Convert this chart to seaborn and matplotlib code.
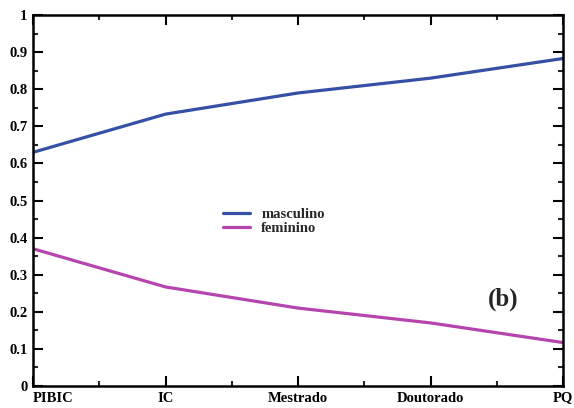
import matplotlib
matplotlib.use("Agg")
import matplotlib.pyplot as plt
import seaborn as sns
import pandas as pd
import numpy as np

categories = ["PIBIC", "IC", "Mestrado", "Doutorado", "PQ"]
masculino = [0.630, 0.733, 0.790, 0.830, 0.883]
feminino = [0.370, 0.267, 0.210, 0.170, 0.117]
y_ticks = [0, 0.1, 0.2, 0.3, 0.4, 0.5, 0.6, 0.7, 0.8, 0.9, 1]
y_labels = ["0", "0.1", "0.2", "0.3", "0.4", "0.5", "0.6", "0.7", "0.8", "0.9", "1"]

sns.set_theme(style="white")
plt.rcParams["font.family"] = ["Liberation Serif", "DejaVu Serif"]
plt.rcParams["font.weight"] = "bold"

df = pd.DataFrame({
    "x": list(range(len(categories))) * 2,
    "valor": masculino + feminino,
    "genero": ["masculino"] * len(categories) + ["feminino"] * len(categories),
})

fig = plt.figure(figsize=(5.74, 4.08), dpi=100)
ax = fig.add_axes([0.0575, 0.054, 0.9235, 0.909])
sns.lineplot(data=df, x="x", y="valor", hue="genero",
             hue_order=["masculino", "feminino"],
             palette={"masculino": "#3550a5", "feminino": "#b545ac"},
             linewidth=2.3, ax=ax)

ax.set_xlim(0, len(categories) - 1)
ax.set_ylim(0, 1)
ax.set_xticks(range(len(categories)))
ax.set_xticklabels(categories, fontsize=10.5, fontweight="bold")
ax.get_xticklabels()[0].set_horizontalalignment("left")
ax.set_yticks(y_ticks)
ax.set_yticklabels(y_labels, fontsize=10.5, fontweight="bold")
ax.set_xticks(np.arange(0.5, len(categories) - 1, 1), minor=True)
ax.set_yticks(np.arange(0.05, 1, 0.1), minor=True)
ax.tick_params(which="major", direction="in", length=7, width=1.5,
               top=True, right=True, bottom=True, left=True, pad=4, colors="black")
ax.tick_params(which="minor", direction="in", length=3.5, width=1.5,
               top=True, right=True, bottom=True, left=True)
for s in ax.spines.values():
    s.set_linewidth(1.8)
    s.set_color("black")
ax.set_xlabel("")
ax.set_ylabel("")

leg = ax.legend(loc="upper left", bbox_to_anchor=(0.348, 0.497), frameon=False,
                fontsize=10.5, handlelength=1.8, handletextpad=0.8,
                labelspacing=0.05, borderaxespad=0)
for t in leg.get_texts():
    t.set_fontweight("bold")

ax.text(0.887, 0.235, "(b)", transform=ax.transAxes, fontsize=18,
        fontweight="bold", ha="center", va="center")

fig.savefig("out.png", dpi=100)
